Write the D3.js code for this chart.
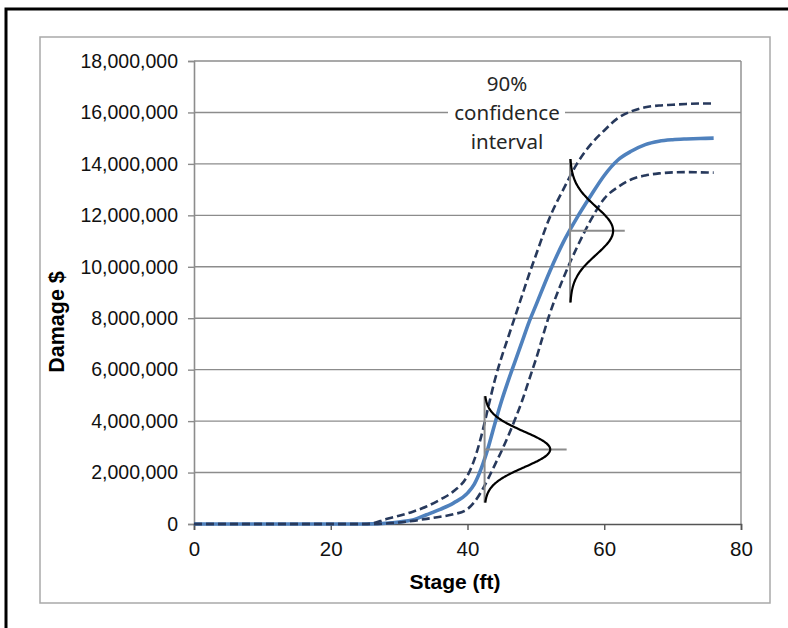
<!DOCTYPE html>
<html>
<head>
<meta charset="utf-8">
<script src="https://cdn.jsdelivr.net/npm/d3@7"></script>
<style>
  html, body { margin: 0; padding: 0; background: #fff; }
  svg { display: block; }
</style>
</head>
<body>
<script>
// ---- data ----
const stage = [0, 5, 10, 15, 20, 25, 26, 28, 30, 32, 34, 36, 38, 40, 41, 42, 43, 44, 45, 46, 47, 48, 49, 50, 52, 54, 56, 58, 60, 62, 64, 66, 68, 70, 72, 74, 76];
const meanDamage = [0, 0, 0, 0, 0, 0, 0.005, 0.03, 0.08, 0.16, 0.36, 0.57, 0.82, 1.2, 1.55, 2.15, 2.95, 3.9, 4.8, 5.6, 6.35, 7.1, 7.85, 8.5, 9.8, 10.95, 11.9, 12.75, 13.55, 14.15, 14.5, 14.75, 14.88, 14.94, 14.97, 14.99, 15.0].map(v => v * 1e6);
const upperDamage = [0, 0, 0, 0, 0, 0, 0.02, 0.18, 0.32, 0.48, 0.68, 0.95, 1.28, 1.88, 2.5, 3.4, 4.5, 5.6, 6.5, 7.3, 8.1, 8.9, 9.7, 10.45, 11.9, 13.0, 14.0, 14.75, 15.3, 15.78, 16.05, 16.2, 16.27, 16.3, 16.33, 16.35, 16.35].map(v => v * 1e6);
const lowerDamage = [0, 0, 0, 0, 0, 0, 0, 0.02, 0.06, 0.12, 0.2, 0.28, 0.38, 0.58, 0.85, 1.25, 1.75, 2.3, 2.85, 3.45, 4.1, 4.8, 5.6, 6.4, 8.15, 9.55, 10.75, 11.8, 12.65, 13.1, 13.4, 13.55, 13.63, 13.67, 13.68, 13.67, 13.66].map(v => v * 1e6);

// uncertainty distributions drawn at two stages
const distStage = [42.5, 55];
const distMean = [2.9e6, 11.4e6];
const distSd = [0.69e6, 0.93e6];
const distPeak = [9.6, 6.3];      // height of the density, in stage units
const distLineEnd = [54.5, 63];   // end of the horizontal marker, in stage units

const xTicks = [0, 20, 40, 60, 80];
const yTicks = [0, 2e6, 4e6, 6e6, 8e6, 10e6, 12e6, 14e6, 16e6, 18e6];
const annotationLines = ["90%", "confidence", "interval"];
const xTitle = "Stage (ft)";
const yTitle = "Damage $";

// ---- drawing ----
const W = 788, H = 628;
const svg = d3.select("body").append("svg").attr("width", W).attr("height", H);

// outer black frame
svg.append("rect").attr("x", 6).attr("y", 9).attr("width", 820).attr("height", 660)
  .attr("fill", "#fff").attr("stroke", "#000").attr("stroke-width", 3);
// chart area frame
svg.append("rect").attr("x", 40).attr("y", 37).attr("width", 730).attr("height", 566)
  .attr("fill", "#fff").attr("stroke", "#a9a9a9").attr("stroke-width", 1.5);

const x = d3.scaleLinear().domain([0, 80]).range([194, 741]);
const y = d3.scaleLinear().domain([0, 18e6]).range([524, 61]);

const gridColor = "#8c8c8c";
// gridlines
svg.append("g").selectAll("line").data(yTicks.filter(d => d > 0)).join("line")
  .attr("x1", x(0)).attr("x2", x(80))
  .attr("y1", d => y(d)).attr("y2", d => y(d))
  .attr("stroke", gridColor).attr("stroke-width", 1.4);
// plot area right edge
svg.append("line").attr("x1", x(80)).attr("x2", x(80)).attr("y1", y(18e6)).attr("y2", y(0))
  .attr("stroke", gridColor).attr("stroke-width", 1.4);

// annotation background (hides gridline)
const annX = 507;
svg.append("rect").attr("x", 448).attr("y", 66).attr("width", 117).attr("height", 88).attr("fill", "#fff");
svg.append("g").selectAll("text").data(annotationLines).join("text")
  .attr("x", annX).attr("y", (d, i) => 91 + i * 29)
  .attr("text-anchor", "middle")
  .attr("font-family", "'Noto Sans', 'Open Sans', sans-serif")
  .attr("font-size", 20.5).attr("fill", "#262626")
  .text(d => d);

// axes
const yAxis = d3.axisLeft(y).tickValues(yTicks).tickFormat(d3.format(",")).tickSize(6).tickPadding(10);
const gy = svg.append("g").attr("transform", `translate(${x(0)},0)`).call(yAxis);
gy.select(".domain").attr("stroke", gridColor).attr("stroke-width", 1.6);
gy.selectAll(".tick line").attr("stroke", gridColor).attr("stroke-width", 1.4);
gy.selectAll("text").attr("font-family", "'Liberation Sans', Arial, sans-serif")
  .attr("font-size", 19.5).attr("fill", "#111");

const xAxis = d3.axisBottom(x).tickValues(xTicks).tickFormat(d3.format("d")).tickSize(6).tickPadding(11);
const gx = svg.append("g").attr("transform", `translate(0,${y(0)})`).call(xAxis);
gx.select(".domain").attr("stroke", "#555").attr("stroke-width", 1.6);
gx.selectAll(".tick line").attr("stroke", "#555").attr("stroke-width", 1.4);
gx.selectAll("text").attr("font-family", "'Liberation Sans', Arial, sans-serif")
  .attr("font-size", 20.5).attr("fill", "#111");

// axis titles
svg.append("text").attr("x", 455).attr("y", 589).attr("text-anchor", "middle")
  .attr("font-family", "'Liberation Sans', Arial, sans-serif").attr("font-weight", "bold")
  .attr("font-size", 21).attr("fill", "#000").text(xTitle);
svg.append("text").attr("transform", "translate(64,322) rotate(-90)").attr("text-anchor", "middle")
  .attr("font-family", "'Liberation Sans', Arial, sans-serif").attr("font-weight", "bold")
  .attr("font-size", 21.5).attr("fill", "#000").text(yTitle);

// curves
const rows = stage.map((s, i) => ({ s, m: meanDamage[i], u: upperDamage[i], l: lowerDamage[i] }));
const lineOf = key => d3.line().x(d => x(d.s)).y(d => y(d[key])).curve(d3.curveMonotoneX);

svg.append("path").datum(rows).attr("d", lineOf("m"))
  .attr("fill", "none").attr("stroke", "#4f81bd").attr("stroke-width", 3.6).attr("stroke-linejoin", "round");
["u", "l"].forEach(k => {
  svg.append("path").datum(rows).attr("d", lineOf(k))
    .attr("fill", "none").attr("stroke", "#27395c").attr("stroke-width", 2.6)
    .attr("stroke-dasharray", "8,4");
});

// distributions
distStage.forEach((s, i) => {
  const m = distMean[i], sd = distSd[i], p = distPeak[i];
  const g = svg.append("g");
  g.append("line").attr("x1", x(s)).attr("x2", x(s)).attr("y1", y(m - 3 * sd)).attr("y2", y(m + 3 * sd))
    .attr("stroke", "#8c8c8c").attr("stroke-width", 2);
  g.append("line").attr("x1", x(s)).attr("x2", x(distLineEnd[i])).attr("y1", y(m)).attr("y2", y(m))
    .attr("stroke", "#8c8c8c").attr("stroke-width", 2);
  const vals = d3.range(-3, 3.001, 0.05).map(z => m + z * sd);
  const bell = d3.line()
    .x(v => x(s + p * Math.exp(-0.5 * Math.pow((v - m) / sd, 2))))
    .y(v => y(v))
    .curve(d3.curveBasis);
  g.append("path").datum(vals).attr("d", bell)
    .attr("fill", "none").attr("stroke", "#000").attr("stroke-width", 2.2);
});
</script>
</body>
</html>
